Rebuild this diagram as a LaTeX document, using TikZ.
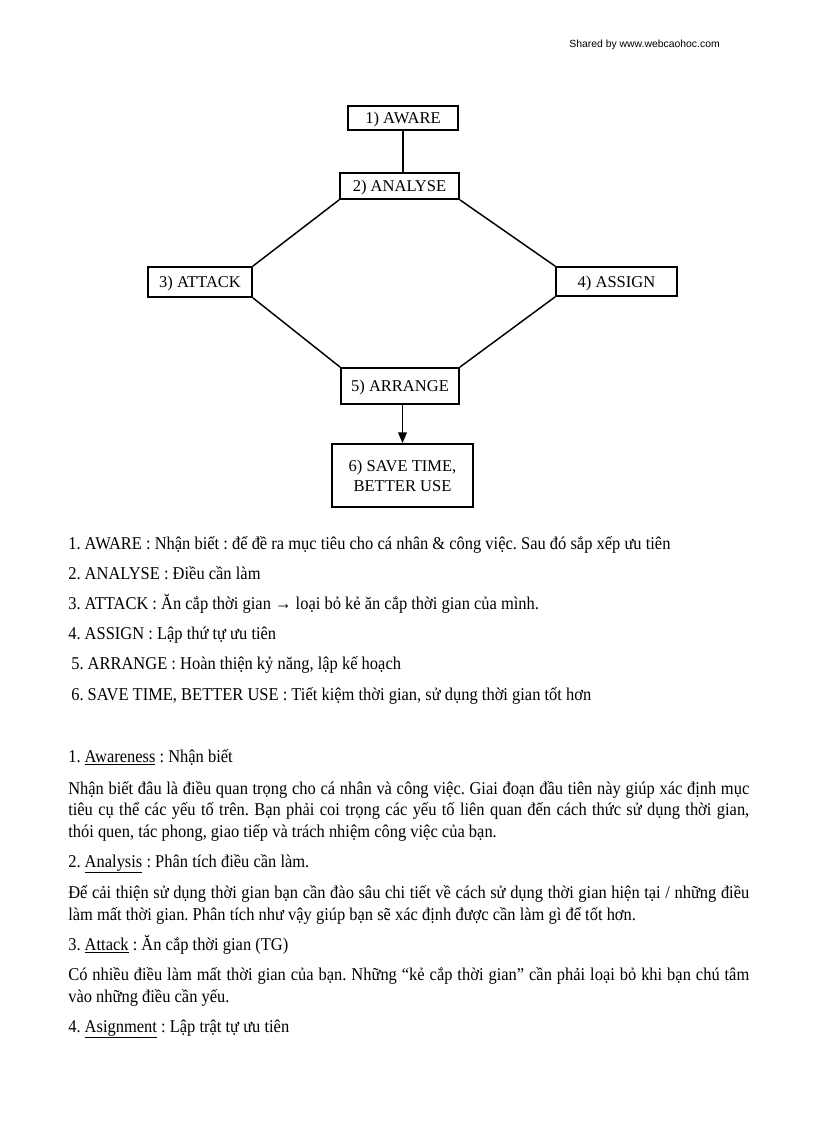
\documentclass[tikz,border=0pt]{standalone}
\usepackage{fontspec}
\setmainfont{Liberation Serif}
\newfontfamily\bodyfont[FakeStretch=0.915]{Liberation Serif}
\newfontfamily\hdrfont{Liberation Sans}
\usetikzlibrary{arrows.meta}
\frenchspacing
\tikzset{
  box/.style={draw=black, line width=1.3pt, inner sep=0pt, font=\fontsize{12.4}{15}\selectfont, align=center, text depth=0pt},
  conn/.style={draw=black, line width=1.1pt},
  body/.style={anchor=base west, inner sep=0pt, font=\bodyfont\fontsize{13.5}{16}\selectfont},
}
\newcommand{\jline}[1]{\makebox[510.75pt][s]{#1}}
\begin{document}
\begin{tikzpicture}[x=0.75pt,y=-0.75pt]
\useasboundingbox (0,0) rectangle (816,1123);
\node[anchor=base east, inner sep=0pt, font=\hdrfont\fontsize{7.8}{9}\selectfont] (hdr) at (720,48) {Shared by www.webcaohoc.com};

% diagram
\node[box, minimum width=110*0.75pt, minimum height=24*0.75pt] (aware) at (403,118) {1) AWARE};
\node[box, minimum width=119*0.75pt, minimum height=26*0.75pt] (analyse) at (399.5,186) {2) ANALYSE};
\node[box, minimum width=104*0.75pt, minimum height=30*0.75pt] (attack) at (200,282) {3) ATTACK};
\node[box, minimum width=121*0.75pt, minimum height=29*0.75pt] (assign) at (616.5,281.5) {4) ASSIGN};
\node[box, minimum width=118*0.75pt, minimum height=36*0.75pt] (arrange) at (400,386) {5) ARRANGE};
\node[box, minimum width=141*0.75pt, minimum height=63*0.75pt] (save) at (402.5,475.5) {6) SAVE TIME,\\BETTER USE};

\draw[conn] (aware.south) -- (aware.south |- analyse.north);
\draw[conn] (analyse.south west) -- (attack.north east);
\draw[conn] (analyse.south east) -- (assign.north west);
\draw[conn] (attack.south east) -- (arrange.north west);
\draw[conn] (assign.south west) -- (arrange.north east);
\draw[conn, -{Triangle[length=8pt,width=6.5pt]}] (arrange.south -| save.north) -- (save.north);

% list
\node[body] (l1) at (68,549) {1. AWARE : Nhận biết : để đề ra mục tiêu cho cá nhân \& công việc. Sau đó sắp xếp ưu tiên};
\node[body] (l2) at (68,579) {2. ANALYSE : Điều cần làm};
\node[body] (l3) at (68,609) {3. ATTACK : Ăn cắp thời gian → loại bỏ kẻ ăn cắp thời gian của mình.};
\node[body] (l4) at (68,639) {4. ASSIGN : Lập thứ tự ưu tiên};
\node[body] (l5) at (71,669) {5. ARRANGE : Hoàn thiện kỷ năng, lập kế hoạch};
\node[body] (l6) at (71,700) {6. SAVE TIME, BETTER USE : Tiết kiệm thời gian, sử dụng thời gian tốt hơn};

% sections
\node[body] (s1) at (68,762) {1. \underline{Awareness} : Nhận biết};
\node[body] (p1a) at (68,794) {\jline{Nhận biết đâu là điều quan trọng cho cá nhân và công việc. Giai đoạn đầu tiên này giúp xác định mục}};
\node[body] (p1b) at (68,815.5) {\jline{tiêu cụ thể các yếu tố trên. Bạn phải coi trọng các yếu tố liên quan đến cách thức sử dụng thời gian,}};
\node[body] (p1c) at (68,837) {thói quen, tác phong, giao tiếp và trách nhiệm công việc của bạn.};
\node[body] (s2) at (68,867) {2. \underline{Analysis} : Phân tích điều cần làm.};
\node[body] (p2a) at (68,898) {\jline{Để cải thiện sử dụng thời gian bạn cần đào sâu chi tiết về cách sử dụng thời gian hiện tại / những điều}};
\node[body] (p2b) at (68,920) {làm mất thời gian. Phân tích như vậy giúp bạn sẽ xác định được cần làm gì để tốt hơn.};
\node[body] (s3) at (68,950) {3. \underline{Attack} : Ăn cắp thời gian (TG)};
\node[body] (p3a) at (68,980) {\jline{Có nhiều điều làm mất thời gian của bạn. Những “kẻ cắp thời gian” cần phải loại bỏ khi bạn chú tâm}};
\node[body] (p3b) at (68,1002) {vào những điều cần yếu.};
\node[body] (s4) at (68,1032) {4. \underline{Asignment} : Lập trật tự ưu tiên};
\end{tikzpicture}
\end{document}
